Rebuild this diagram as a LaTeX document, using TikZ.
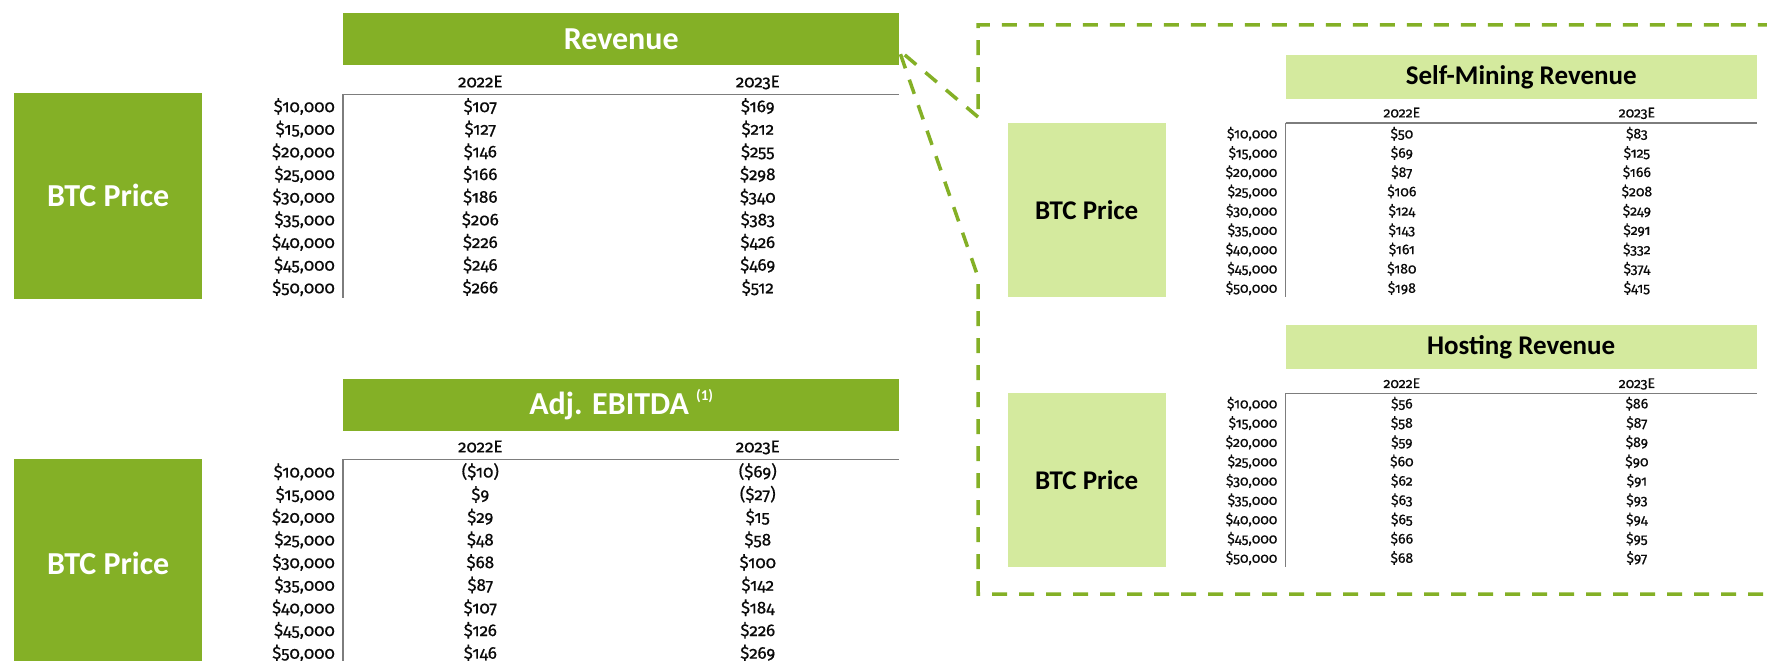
\documentclass[tikz,border=0pt]{standalone}
\usepackage{fontspec}
\setmainfont{Carlito}
\newfontfamily\tabfont{Fira Sans}[Numbers={OldStyle,Proportional}, FakeBold=0.6]
\usetikzlibrary{calc}
\definecolor{dkgreen}{RGB}{132,176,38}
\definecolor{ltgreen}{RGB}{212,234,158}
\definecolor{rulegray}{RGB}{125,125,125}
\definecolor{txt}{RGB}{10,10,10}
\newcommand{\fs}[1]{\fontsize{#1}{#1}\selectfont}
\newcommand{\sensTable}[9]{%
  \pgfmathsetmacro\cA{#2+0.247*(#3-#2)}%
  \pgfmathsetmacro\cB{#2+0.746*(#3-#2)}%
  \pgfmathsetmacro\hy{#4-0.55*#7}%
  \node[cell, font=\tabfont\fs{#7}] (#1h1) at (\cA,\hy) {2022E};
  \node[cell, font=\tabfont\fs{#7}] (#1h2) at (\cB,\hy) {2023E};
  \draw[hrule] (#2,#4) -- (#3,#4);
  \draw[vrule] (#2,#4) -- (#2,#8);
  \foreach \vn/\va/\vb [count=\i from 0] in {#9}{
    \pgfmathsetmacro\yy{#5+\i*#6+0.14*#7}
    \node[cell, font=\tabfont\fs{#7}, anchor=mid east] (#1l\i) at (#2-8,\yy) {\$\vn,000};
    \node[cell, font=\tabfont\fs{#7}] (#1a\i) at (\cA,\yy) {\va};
    \node[cell, font=\tabfont\fs{#7}] (#1b\i) at (\cB,\yy) {\vb};
  }%
}
\begin{document}
\begin{tikzpicture}[x=1pt,y=-1pt,
  cell/.style={anchor=mid, inner sep=0pt, text=txt},
  hrule/.style={draw=rulegray, line width=1.6pt},
  vrule/.style={draw=rulegray, line width=1.2pt},
  darkbox/.style={fill=dkgreen, draw=none, inner sep=0pt, anchor=north west, text=white, font=\bfseries\fs{32}},
  lightbox/.style={fill=ltgreen, draw=none, inner sep=0pt, anchor=north west, text=black, font=\bfseries\fs{27}},
  callout/.style={draw=dkgreen, line width=3.5pt, dash pattern=on 15pt off 12pt}]
\useasboundingbox (0,0) rectangle (1767,661);
\fill[white] (0,0) rectangle (1767,661);
\clip (0,0) rectangle (1767,661);

% left column
\node[darkbox, minimum width=556, minimum height=52] (rev) at (343,13) {Revenue};
\node[darkbox, minimum width=188, minimum height=205.6] (btc1) at (14,92.7) {BTC Price};
\sensTable{r}{343}{899}{94.3}{107.3}{22.65}{17}{298.3}{10/\$107/\$169, 15/\$127/\$212, 20/\$146/\$255, 25/\$166/\$298, 30/\$186/\$340, 35/\$206/\$383, 40/\$226/\$426, 45/\$246/\$469, 50/\$266/\$512}

\node[darkbox, minimum width=556, minimum height=52.7] (ebitda) at (343,378.3) {Adj. EBITDA \raisebox{0.42em}{\fs{15}(1)}};
\node[darkbox, minimum width=188, minimum height=210] (btc2) at (14,458.3) {\raisebox{-4pt}{BTC Price}};
\sensTable{e}{343}{899}{459.3}{472.7}{22.65}{17}{670}{10/{(\$10)}/{(\$69)}, 15/\$9/{(\$27)}, 20/\$29/\$15, 25/\$48/\$58, 30/\$68/\$100, 35/\$87/\$142, 40/\$107/\$184, 45/\$126/\$226, 50/\$146/\$269}

% right column
\node[lightbox, minimum width=471, minimum height=44] (self) at (1285.5,55) {Self-Mining Revenue};
\node[lightbox, minimum width=158, minimum height=174] (btc3) at (1007.5,122.7) {BTC Price};
\sensTable{s}{1285.5}{1756.5}{122.7}{134}{19.3}{14}{296.7}{10/\$50/\$83, 15/\$69/\$125, 20/\$87/\$166, 25/\$106/\$208, 30/\$124/\$249, 35/\$143/\$291, 40/\$161/\$332, 45/\$180/\$374, 50/\$198/\$415}

\node[lightbox, minimum width=471, minimum height=44] (host) at (1285.5,325) {Hosting Revenue};
\node[lightbox, minimum width=158, minimum height=174] (btc4) at (1007.5,392.7) {BTC Price};
\sensTable{h}{1285.5}{1756.5}{393.3}{404}{19.3}{14}{566.7}{10/\$56/\$86, 15/\$58/\$87, 20/\$59/\$89, 25/\$60/\$90, 30/\$62/\$91, 35/\$63/\$93, 40/\$65/\$94, 45/\$66/\$95, 50/\$68/\$97}

% dashed call-out
\coordinate (src) at (899,50);
\coordinate (k1) at (978,117);
\coordinate (k2) at (978,277);
\coordinate (tl) at (978,25);
\coordinate (tr) at (1800,25);
\coordinate (br) at (1800,594);
\coordinate (bl) at (978,594);
\draw[callout] (k1) -- (src) -- (k2) -- (bl) -- (br) -- (tr) -- (tl) -- cycle;
\end{tikzpicture}
\end{document}
